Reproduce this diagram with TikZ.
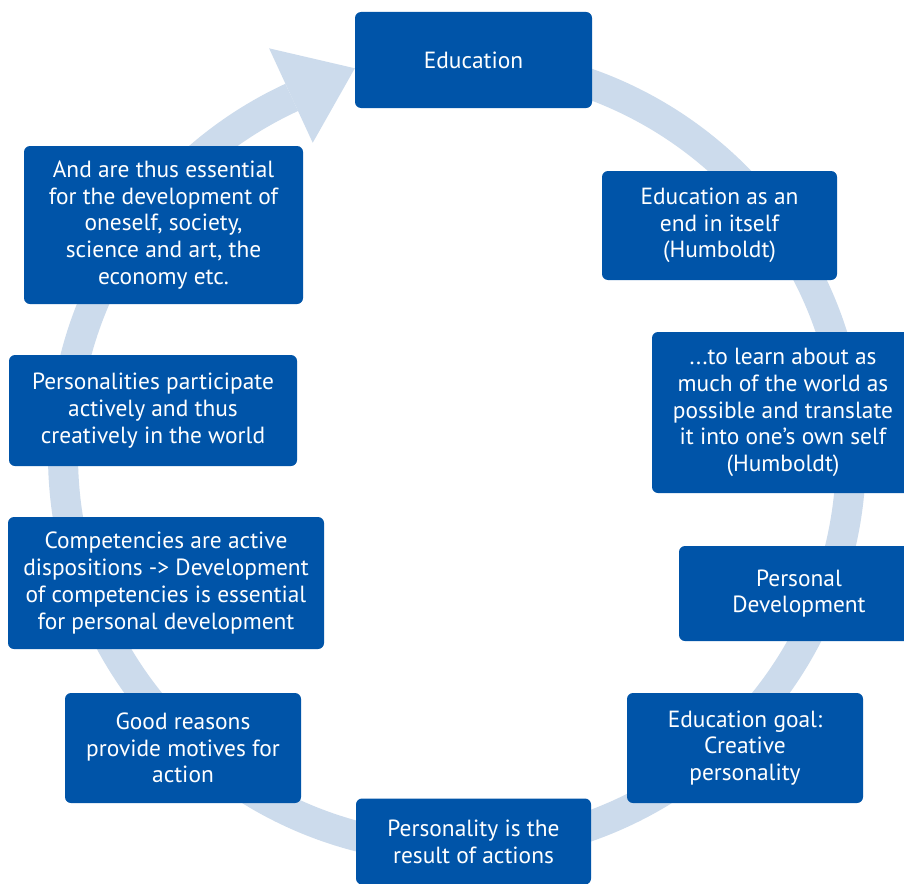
\documentclass[tikz,border=0pt]{standalone}
\usepackage{fontspec}
\setmainfont{PT Sans}
\usetikzlibrary{calc}
\definecolor{boxblue}{HTML}{0054A8}
\definecolor{ringblue}{HTML}{CCDBEC}
\begin{document}
\begin{tikzpicture}[x=1pt,y=-1pt,
  bx/.style={fill=boxblue, rounded corners=6pt, text=white, align=center,
    inner sep=0pt, font=\fontsize{23.4}{26.7}\selectfont}]
\useasboundingbox (0,0) rectangle (904,883);
\clip (0,0) rectangle (904,883);
\fill[white] (0,0) rectangle (904,883);
\coordinate (c) at (457,455);
\draw[ringblue, line width=30pt] ($(c)+(-90:394)$) arc[start angle=-90, end angle=245.2, radius=394];
\fill[ringblue] ($(c)+(245.2:344)$) -- ($(c)+(255.2:400)$) -- ($(c)+(245.2:448)$) -- cycle;

\node[bx, minimum width=237pt, minimum height=96pt] (edu) at (473.5,60) {Education};
\node[bx, minimum width=235pt, minimum height=109pt] (endself) at (719.5,225.5) {Education as an\\end in itself\\(Humboldt)};
\node[bx, minimum width=262pt, minimum height=161pt] (learn) at (783,412.5) {...to learn about as\\much of the world as\\possible and translate\\it into one{\char"0027}s own self\\(Humboldt)};
\node[bx, minimum width=240pt, minimum height=95pt] (persdev) at (799,593.5) {Personal\\Development};
\node[bx, minimum width=236pt, minimum height=110pt] (goal) at (745,748) {Education goal:\\Creative\\personality};
\node[bx, minimum width=235pt, minimum height=86pt] (result) at (473.5,841.5) {Personality is the\\result of actions};
\node[bx, minimum width=236pt, minimum height=110pt] (good) at (183,748) {Good reasons\\provide motives for\\action};
\node[bx, minimum width=316pt, minimum height=132pt] (comp) at (166,583) {Competencies are active\\dispositions -> Development\\of competencies is essential\\for personal development};
\node[bx, minimum width=288pt, minimum height=111pt] (part) at (153,410.5) {Personalities participate\\actively and thus\\creatively in the world};
\node[bx, minimum width=279pt, minimum height=158pt] (thus) at (163.5,225) {And are thus essential\\for the development of\\oneself, society,\\science and art, the\\economy etc.};
\end{tikzpicture}
\end{document}
